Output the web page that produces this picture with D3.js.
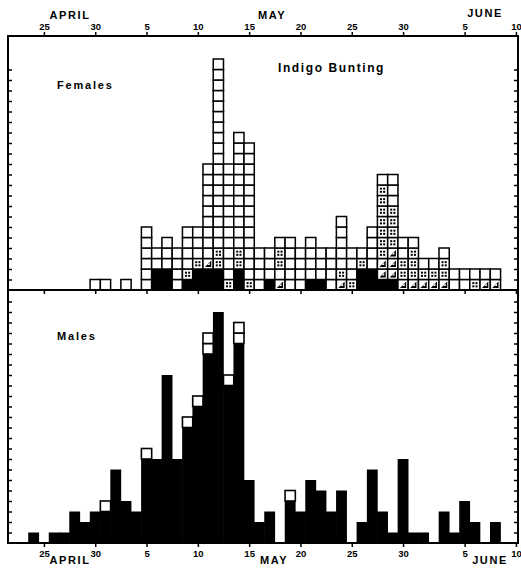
<!DOCTYPE html>
<html>
<head>
<meta charset="utf-8">
<script src="https://cdn.jsdelivr.net/npm/d3@7"></script>
<style>
body{margin:0;background:#fff;}
text{font-family:"Liberation Sans",Arial,sans-serif;font-weight:bold;fill:#000;}
</style>
</head>
<body>
<svg id="chart" width="521" height="568"></svg>
<script>
// day 0 = April 25, arrays start at April 24 (day -1)
var firstDay = -1;

// tick positions (days after April 25) and their labels
var tickDays = [0, 5, 10, 15, 20, 25, 30, 35, 41, 46];
var tickLabels = ['25', '30', '5', '10', '15', '20', '25', '30', '5', '10'];
var months = ['APRIL', 'MAY', 'JUNE'];

// males: black = solid, open = white squares on top
var maleBlack = [1,0,1,1,3,2,3,3,7,4,3,8,8,16,8,11,13,18,22,15,19,6,2,3,0,4,3,6,5,3,5,0,2,7,3,1,8,1,1,0,3,1,4,2,0,2,0];
var maleOpen  = [0,0,0,0,0,0,0,1,0,0,0,1,0,0,0,1,1,2,0,1,2,0,0,0,0,1,0,0,0,0,0,0,0,0,0,0,0,0,0,0,0,0,0,0,0,0,0];

// females: one string per day, squares bottom to top
// o = open, b = black, d = dotted, t = half triangle
var femaleStacks = [
  '', '', '', '', '', '', 'o', 'o', '', 'o', '',
  'oooooo', 'bboo', 'bbooo', 'oooo', 'bdoooo', 'bbdooo',
  'bbtooooooooo', 'bbddoooooooooooooooooo', 'dooooooooooo',
  'bbddooooooooooo', 'dooooooooooooo', 'oooo', 'booo',
  'toddo', 'ooooo', 'oooo', 'boooo', 'booo', 'oooo', 'tdooooo',
  'dooo', 'bbdo', 'bboooo', 'bttdddddddo', 'btttddddooo',
  'tddoo', 'tdddo', 'tdo', 'tdo', 'tddo', 'oo', 'oo', 'do', 'to', 'to', ''
];

var W = 521, H = 568;
var svg = d3.select('#chart');
svg.append('rect').attr('width', W).attr('height', H).attr('fill', '#fff');

var xL = 8, xR = 518, yTop = 36, yMid = 290, yBot = 543;
var x = d3.scaleLinear().domain([-3.5, 46.2]).range([xL, xR]);
var yF = d3.scaleLinear().domain([0, 22]).range([yMid, yMid - 22 * 10.5]);
var yM = d3.scaleLinear().domain([0, 24]).range([yBot, yBot - 24 * 10.5]);

var g = svg.append('g');

// ---- females ----
var cells = [];
femaleStacks.forEach(function(s, i){
  for (var k = 0; k < s.length; k++) cells.push({day: firstDay + i, row: k, type: s[k]});
});

var fc = g.append('g').selectAll('g').data(cells).enter().append('g')
  .attr('transform', function(d){ return 'translate(' + x(d.day - 0.5) + ',' + yF(d.row + 1) + ')'; });

var cw = x(1) - x(0), ch = yF(0) - yF(1);
fc.append('rect')
  .attr('width', cw).attr('height', ch)
  .attr('fill', function(d){ return d.type == 'b' ? '#000' : '#fff'; })
  .attr('stroke', '#000').attr('stroke-width', 1.5);

// dotted squares
fc.filter(function(d){ return d.type == 'd'; }).each(function(){
  var s = d3.select(this);
  [[0,0],[1,0],[0,1],[1,1]].forEach(function(p){
    s.append('rect').attr('x', cw/2 - 2.6 + p[0]*3.2).attr('y', ch/2 - 2.6 + p[1]*3.2)
      .attr('width', 2).attr('height', 2).attr('fill', '#000');
  });
});

// half triangle squares
fc.filter(function(d){ return d.type == 't'; }).each(function(){
  var s = d3.select(this);
  s.append('path').attr('d', 'M' + 2 + ',' + (ch-2) + 'L' + (cw-2) + ',' + (ch-2) + 'L' + (cw-2) + ',' + 2 + 'Z').attr('fill', '#000');
  s.append('path').attr('d', 'M' + (cw-6) + ',' + (ch-4) + 'L' + (cw-3.5) + ',' + (ch-4) + 'L' + (cw-3.5) + ',' + (ch-6.5) + 'Z').attr('fill', '#fff');
});

// ---- males ----
var males = maleBlack.map(function(b, i){ return {day: firstDay + i, black: b, open: maleOpen[i]}; });

g.append('g').selectAll('rect').data(males).enter().append('rect')
  .attr('x', function(d){ return x(d.day - 0.5) - 0.3; })
  .attr('width', cw + 0.6)
  .attr('y', function(d){ return yM(d.black); })
  .attr('height', function(d){ return yM(0) - yM(d.black); })
  .attr('fill', '#000');

var openCells = [];
males.forEach(function(d){
  for (var k = 0; k < d.open; k++) openCells.push({day: d.day, row: d.black + k});
});
g.append('g').selectAll('rect').data(openCells).enter().append('rect')
  .attr('x', function(d){ return x(d.day - 0.5); })
  .attr('y', function(d){ return yM(d.row + 1); })
  .attr('width', cw).attr('height', yM(0) - yM(1))
  .attr('fill', '#fff').attr('stroke', '#000').attr('stroke-width', 1.6);

// ---- frame and axes ----
svg.append('rect').attr('x', xL).attr('y', yTop).attr('width', xR - xL).attr('height', yBot - yTop)
  .attr('fill', 'none').attr('stroke', '#000').attr('stroke-width', 2);
svg.append('line').attr('x1', xL).attr('x2', xR).attr('y1', yMid).attr('y2', yMid)
  .attr('stroke', '#000').attr('stroke-width', 2);

function fmt(d){ return tickLabels[tickDays.indexOf(d)]; }

svg.append('g').attr('transform', 'translate(0,' + yTop + ')')
  .call(d3.axisTop(x).tickValues(tickDays).tickFormat(fmt).tickSize(4).tickPadding(2));
svg.append('g').attr('transform', 'translate(0,' + yBot + ')')
  .call(d3.axisBottom(x).tickValues(tickDays).tickFormat(fmt).tickSize(4).tickPadding(3));
svg.append('g').attr('transform', 'translate(0,' + yMid + ')')
  .call(d3.axisBottom(x).tickValues(tickDays).tickFormat('').tickSize(4));

var unitsF = d3.range(1, 22), unitsM = d3.range(1, 24);
svg.append('g').attr('transform', 'translate(' + xL + ',0)').call(d3.axisRight(yF).tickValues(unitsF).tickFormat('').tickSize(4));
svg.append('g').attr('transform', 'translate(' + xL + ',0)').call(d3.axisRight(yM).tickValues(unitsM).tickFormat('').tickSize(4));
svg.append('g').attr('transform', 'translate(' + xR + ',0)').call(d3.axisLeft(yF).tickValues(unitsF).tickFormat('').tickSize(4));
svg.append('g').attr('transform', 'translate(' + xR + ',0)').call(d3.axisLeft(yM).tickValues(unitsM).tickFormat('').tickSize(4));

svg.selectAll('.domain').remove();
svg.selectAll('.tick line').attr('stroke', '#000').attr('stroke-width', 1.5);
svg.selectAll('.tick text').style('font-size', '9.5px').style('font-weight', 'bold')
  .style('font-family', '"Liberation Sans",Arial,sans-serif');

// month labels
var monthTop = [[70, 19], [272, 19], [485, 17]];
var monthBot = [[70, 564], [274, 564], [490, 564]];
months.forEach(function(m, i){
  svg.append('text').attr('x', monthTop[i][0]).attr('y', monthTop[i][1]).attr('text-anchor', 'middle')
    .style('font-size', '11px').style('letter-spacing', '1.6px').text(m);
  svg.append('text').attr('x', monthBot[i][0]).attr('y', monthBot[i][1]).attr('text-anchor', 'middle')
    .style('font-size', '11px').style('letter-spacing', '1.6px').text(m);
});

svg.append('text').attr('x', 57).attr('y', 89).style('font-size', '11px').style('letter-spacing', '1.8px').text('Females');
svg.append('text').attr('x', 57).attr('y', 340).style('font-size', '11px').style('letter-spacing', '1.8px').text('Males');
svg.append('text').attr('x', 278).attr('y', 72).style('font-size', '12px').style('letter-spacing', '1.6px').text('Indigo Bunting');
</script>
</body>
</html>
